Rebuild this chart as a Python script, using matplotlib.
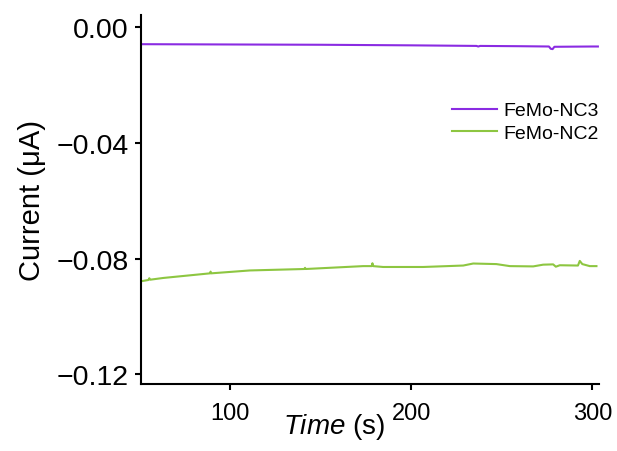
import matplotlib
matplotlib.use("Agg")
import matplotlib.pyplot as plt

plt.rcParams['font.family'] = ['Liberation Sans', 'DejaVu Sans']
plt.rcParams['mathtext.fontset'] = 'custom'
plt.rcParams['mathtext.rm'] = 'Liberation Sans'
plt.rcParams['mathtext.it'] = 'Liberation Sans:italic'

# FeMo-NC3 (purple)
t_nc3 = [51, 100, 150, 200, 236, 237, 238, 260, 276, 277, 278, 279, 300, 303]
i_nc3 = [-0.0058, -0.0059, -0.0060, -0.0062, -0.0064, -0.0066, -0.0064,
         -0.0065, -0.0066, -0.0074, -0.0075, -0.0067, -0.0066, -0.0066]

# FeMo-NC2 (green)
t_nc2 = [51.3, 55, 55.5, 56, 63.2, 89, 89.3, 89.6, 111, 141.0, 141.4, 141.8,
         173.5, 178.2, 178.6, 179.0, 184.5, 206.6, 228.7, 234.2, 247, 254.4,
         267.3, 272.8, 278.3, 279.8, 282, 292, 293, 294.4, 298.5, 302.2]
i_nc2 = [-0.0878, -0.0874, -0.0868, -0.0873, -0.0867, -0.0851, -0.0845,
         -0.0851, -0.0841, -0.0836, -0.0832, -0.0836, -0.0826, -0.0826,
         -0.0816, -0.0826, -0.0829, -0.0829, -0.0824, -0.0817, -0.0819,
         -0.0826, -0.0827, -0.0821, -0.0820, -0.0828, -0.0823, -0.0824,
         -0.0808, -0.0819, -0.0826, -0.0826]

x_ticks = [100, 200, 300]
y_ticks = [0.00, -0.04, -0.08, -0.12]
y_ticklabels = ['0.00', '\u22120.04', '\u22120.08', '\u22120.12']

fig = plt.figure(figsize=(6.17, 4.52), dpi=100)
ax = fig.add_axes([0.2285, 0.1482, 0.7423, 0.8164])

ax.plot(t_nc3, i_nc3, color='#8A2BE2', lw=1.5, label='FeMo-NC3')
ax.plot(t_nc2, i_nc2, color='#8DC641', lw=1.5, label='FeMo-NC2')

ax.set_xlim(50.9, 303.6)
ax.set_ylim(-0.1234, 0.0043)
ax.set_xticks(x_ticks)
ax.set_xticklabels([str(v) for v in x_ticks], fontsize=17)
ax.set_yticks(y_ticks)
ax.set_yticklabels(y_ticklabels, fontsize=20.5)

for s in ['top', 'right']:
    ax.spines[s].set_visible(False)
for s in ['left', 'bottom']:
    ax.spines[s].set_linewidth(1.5)
ax.tick_params(direction='out', length=4, width=1.5)
ax.tick_params(axis='x', pad=9)
ax.tick_params(axis='y', pad=5)

ax.set_xlabel(r'$\mathit{Time}$ (s)', fontsize=20)
ax.xaxis.set_label_coords(0.422, -0.072)
ax.set_ylabel('Current (\u03bcA)', fontsize=21)
ax.yaxis.set_label_coords(-0.208, 0.5)

ax.legend(loc='upper left', bbox_to_anchor=(0.68, 0.765), frameon=False,
          fontsize=14, handlelength=2.3, handletextpad=0.3, labelspacing=0.25,
          borderaxespad=0, borderpad=0)

fig.savefig('out.png', dpi=100)
